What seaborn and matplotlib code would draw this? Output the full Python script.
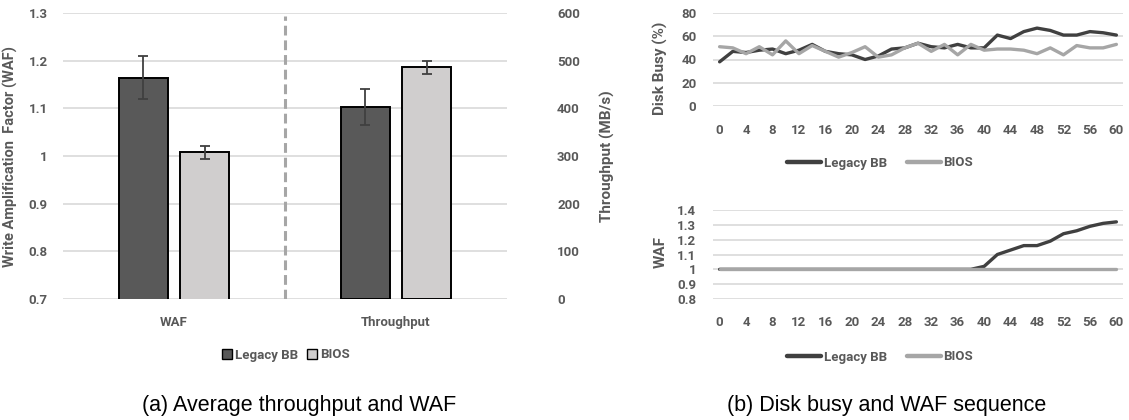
import matplotlib
matplotlib.use("Agg")
import matplotlib.pyplot as plt
import numpy as np
import pandas as pd
import seaborn as sns
from matplotlib.patches import Patch
from matplotlib.lines import Line2D
from matplotlib.ticker import FuncFormatter

# ---------------- data ----------------
series = ["Legacy BB", "BIOS"]
bar_categories = ["WAF", "Throughput"]
waf_mean = [1.164, 1.008]
waf_err = [0.045, 0.014]
tput_mean = [403, 486]
tput_err = [38, 13]

time_s = [0, 2, 4, 6, 8, 10, 12, 14, 16, 18, 20, 22, 24, 26, 28, 30,
          32, 34, 36, 38, 40, 42, 44, 46, 48, 50, 52, 54, 56, 58, 60]
busy_legacy = [38, 47, 46, 48, 49, 45, 48, 53, 47, 45, 44, 40, 43, 49, 50, 54,
               51, 50, 53, 50, 50, 61, 58, 64, 67, 65, 61, 61, 64, 63, 61]
busy_bios = [51, 50, 45, 51, 44, 56, 45, 52, 47, 42, 46, 51, 42, 44, 50, 54,
             47, 53, 44, 53, 48, 49, 49, 48, 45, 50, 44, 52, 50, 50, 53]
waf_legacy = [1.0, 1.0, 1.0, 1.0, 1.0, 1.0, 1.0, 1.0, 1.0, 1.0, 1.0, 1.0, 1.0, 1.0, 1.0, 1.0,
              1.0, 1.0, 1.0, 1.0, 1.02, 1.10, 1.13, 1.16, 1.16, 1.19, 1.24, 1.26, 1.29, 1.31, 1.32]
waf_bios = [1.0, 1.0, 1.0, 1.0, 1.0, 1.0, 1.0, 1.0, 1.0, 1.0, 1.0, 1.0, 1.0, 1.0, 1.0, 1.0,
            1.0, 1.0, 1.0, 1.0, 1.0, 1.0, 1.0, 1.0, 1.0, 1.0, 1.0, 1.0, 1.0, 1.0, 1.0]

waf_ticks = [0.7, 0.8, 0.9, 1.0, 1.1, 1.2, 1.3]
tput_ticks = [0, 100, 200, 300, 400, 500, 600]
busy_ticks = [0, 20, 40, 60, 80]
seq_waf_ticks = [0.8, 0.9, 1.0, 1.1, 1.2, 1.3, 1.4]
time_ticks = [0, 4, 8, 12, 16, 20, 24, 28, 32, 36, 40, 44, 48, 52, 56, 60]

# ---------------- style ----------------
sns.set_theme(style="white")
plt.rcParams['font.family'] = ['Roboto', 'DejaVu Sans']
plt.rcParams['font.weight'] = 'bold'
TXT = "#595959"
GRID = "#D9D9D9"
BAR_COLORS = ["#595959", "#D0CECE"]
LINE_COLORS = ["#404040", "#A6A6A6"]
FS = 9.5
LFS = 11
W, H = 1129, 420

fig = plt.figure(figsize=(W / 100, H / 100), dpi=100)


def fbox(x0, y0, x1, y1):
    return [x0 / W, 1 - y1 / H, (x1 - x0) / W, (y1 - y0) / H]


fmt = FuncFormatter(lambda v, p: f"{v:g}")


def style_axis(a, grid=True):
    for s in a.spines.values():
        s.set_visible(False)
    a.tick_params(length=0, labelsize=FS, labelcolor=TXT)
    for lab in a.get_xticklabels() + a.get_yticklabels():
        lab.set_fontweight("bold")
    if grid:
        a.yaxis.grid(True, color=GRID, linewidth=1.2)
    a.xaxis.grid(False)
    a.set_axisbelow(True)


# ---------------- (a) bars ----------------
ax = fig.add_axes(fbox(63, 13, 507, 299))
ax2 = ax.twinx()

df_waf = pd.DataFrame({"cat": ["WAF"] * 2, "series": series, "val": waf_mean})
df_tp = pd.DataFrame({"cat": ["Throughput"] * 2, "series": series, "val": tput_mean})

sns.barplot(data=df_waf, x="cat", y="val", hue="series", order=bar_categories,
            hue_order=series, palette=BAR_COLORS, width=0.55, gap=0.2,
            edgecolor="black", linewidth=1.4, errorbar=None, ax=ax, legend=False)
sns.barplot(data=df_tp, x="cat", y="val", hue="series", order=bar_categories,
            hue_order=series, palette=BAR_COLORS, width=0.55, gap=0.2,
            edgecolor="black", linewidth=1.4, errorbar=None, ax=ax2, legend=False)

for a, errs in ((ax, waf_err), (ax2, tput_err)):
    bars = sorted([p for p in a.patches if p.get_width() > 0], key=lambda p: p.get_x())
    xs = [p.get_x() + p.get_width() / 2 for p in bars]
    hs = [p.get_height() for p in bars]
    a.errorbar(xs, hs, yerr=errs, fmt="none", ecolor="#404040",
               elinewidth=1.3, capsize=3.5, capthick=1.3, zorder=5)

ax.set_xlim(-0.5, 1.5)
ax.set_ylim(0.7, 1.3)
ax.set_yticks(waf_ticks)
ax.yaxis.set_major_formatter(fmt)
ax2.set_ylim(0, 600)
ax2.set_yticks(tput_ticks)
ax.axvline(0.5, color="#A6A6A6", linestyle=(0, (3.2, 1.6)), linewidth=2.2, ymin=0.0, ymax=0.99)

style_axis(ax)
style_axis(ax2, grid=False)
ax2.yaxis.grid(False)
ax.tick_params(axis="y", pad=11)
ax.tick_params(axis="x", pad=12)
ax2.tick_params(axis="y", pad=36)
ax.set_xlabel("")
ax.set_ylabel("Write Amplification  Factor (WAF)", fontsize=10.5,
              fontweight="bold", color=TXT)
ax.yaxis.set_label_coords(-0.101, 0.497)
ax2.set_ylabel("Throughput (MB/s)", fontsize=LFS, fontweight="bold", color=TXT)
ax2.yaxis.set_label_coords(1.209, 0.5)

leg_a = [Patch(facecolor=c, edgecolor="black", linewidth=1.0) for c in BAR_COLORS]
fig.legend(leg_a, series, loc="center", bbox_to_anchor=(286 / W, 1 - 355 / H),
           ncol=2, frameon=False, handlelength=0.75, handleheight=0.75,
           handletextpad=0.25, columnspacing=0.7,
           prop={"size": FS, "weight": "bold"}, labelcolor=TXT)

fig.text(299 / W, 1 - 406 / H, "(a) Average throughput and WAF", ha="center",
         va="center", fontsize=15.5, fontweight="normal",
         family=["Liberation Sans", "DejaVu Sans"], color="black")

# ---------------- (b) lines ----------------
df_line = pd.DataFrame({
    "time": time_s * 2,
    "series": [series[0]] * len(time_s) + [series[1]] * len(time_s),
    "busy": busy_legacy + busy_bios,
    "waf": waf_legacy + waf_bios,
})

axT = fig.add_axes(fbox(713, 13, 1123, 106))
sns.lineplot(data=df_line, x="time", y="busy", hue="series", hue_order=series,
             palette=LINE_COLORS, linewidth=2.4, ax=axT, legend=False)
axT.set_xlim(-1, 61)
axT.set_ylim(0, 80)
axT.set_yticks(busy_ticks)
axT.set_xticks(time_ticks)
style_axis(axT)
axT.tick_params(axis="y", pad=12)
axT.tick_params(axis="x", pad=13)
axT.set_xlabel("")
axT.set_ylabel("Disk Busy (%)", fontsize=LFS, fontweight="bold", color=TXT)
axT.yaxis.set_label_coords(-0.11, 0.41)

axB = fig.add_axes(fbox(713, 210, 1123, 299))
sns.lineplot(data=df_line, x="time", y="waf", hue="series", hue_order=series,
             palette=LINE_COLORS, linewidth=2.4, ax=axB, legend=False)
axB.set_xlim(-1, 61)
axB.set_ylim(0.8, 1.4)
axB.set_yticks(seq_waf_ticks)
axB.yaxis.set_major_formatter(fmt)
axB.set_xticks(time_ticks)
style_axis(axB)
axB.tick_params(axis="y", pad=12)
axB.tick_params(axis="x", pad=12)
axB.set_xlabel("")
axB.set_ylabel("WAF", fontsize=LFS, fontweight="bold", color=TXT)
axB.yaxis.set_label_coords(-0.11, 0.53)

for yc in (163, 357):
    handles = [Line2D([0], [0], color=c, linewidth=3.2) for c in LINE_COLORS]
    fig.legend(handles, series, loc="center", bbox_to_anchor=(880 / W, 1 - yc / H),
               ncol=2, frameon=False, handlelength=2.6, handletextpad=0.2,
               columnspacing=1.5, prop={"size": FS, "weight": "bold"},
               labelcolor=TXT)

fig.text(887 / W, 1 - 406 / H, "(b) Disk busy and WAF sequence", ha="center",
         va="center", fontsize=15.5, fontweight="normal",
         family=["Liberation Sans", "DejaVu Sans"], color="black")

fig.savefig("out.png", dpi=100)
